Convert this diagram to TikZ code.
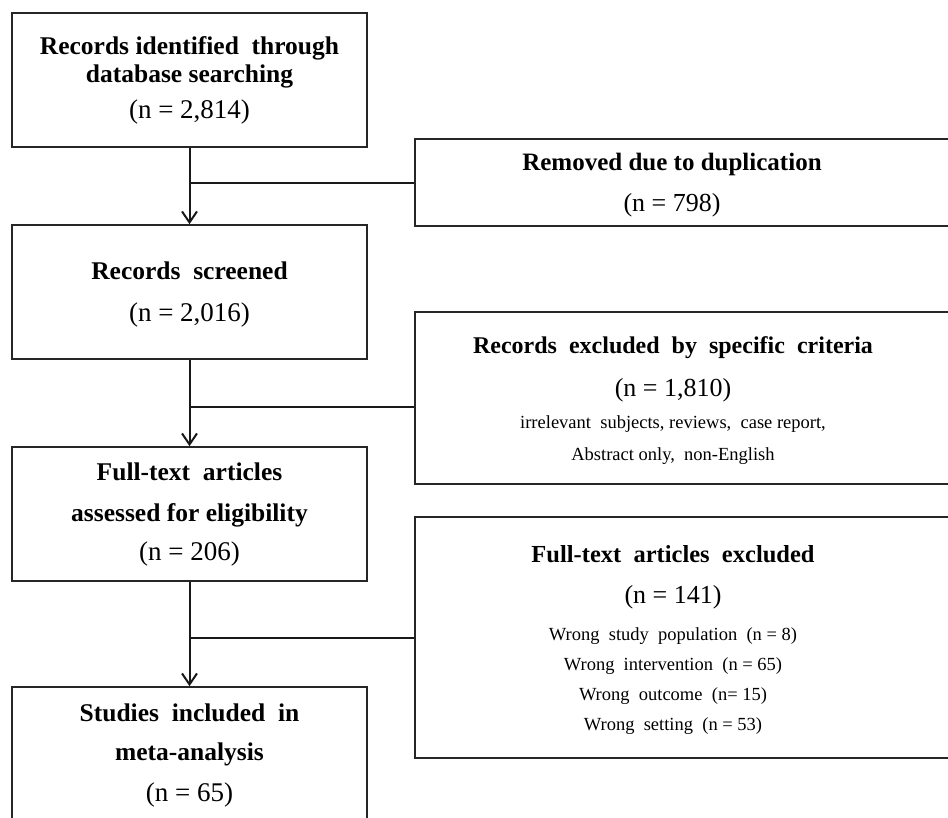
\documentclass[tikz,border=0pt]{standalone}
\usepackage{fontspec}
\setmainfont{Liberation Serif}
\usetikzlibrary{arrows.meta}
\begin{document}
\begin{tikzpicture}[x=1pt,y=-1pt,
  box/.style={draw=black!85, line width=1.6pt, rectangle, inner sep=0pt},
  head/.style={anchor=base, font=\fontsize{25.5}{28}\selectfont\bfseries, inner sep=0pt},
  rhead/.style={anchor=base, font=\fontsize{25}{28}\selectfont\bfseries, inner sep=0pt},
  num/.style={anchor=base, font=\fontsize{27}{30}\selectfont, inner sep=0pt},
  rnum/.style={anchor=base, font=\fontsize{26}{30}\selectfont, inner sep=0pt},
  small/.style={anchor=base, font=\fontsize{18.5}{22}\selectfont, inner sep=0pt},
  link/.style={draw=black!90, line width=2pt},
  arr/.style={link, -{Straight Barb[length=11pt,width=15pt]}}]
\useasboundingbox (0,0) rectangle (948,817);
\clip (0,0) rectangle (948,817);
% main column boxes
\node[box, minimum width=355pt, minimum height=134pt] (b1) at (189.5,80) {};
\node[box, minimum width=355pt, minimum height=134pt] (b2) at (189.5,292) {};
\node[box, minimum width=355pt, minimum height=134pt] (b3) at (189.5,514) {};
\node[box, minimum width=355pt, minimum height=135pt] (b4) at (189.5,754.5) {};
% right boxes
\node[box, minimum width=550pt, minimum height=87pt] (r1) at (690,182.5) {};
\node[box, minimum width=550pt, minimum height=172pt] (r2) at (690,398) {};
\node[box, minimum width=550pt, minimum height=241pt] (r3) at (690,637.5) {};
% texts, main column
\node[head] (t1a) at (189.5,54) {Records identified\ \ through};
\node[head] (t1b) at (189.5,82) {database searching};
\node[num]  (t1c) at (189.5,118) {(n = 2,814)};
\node[head] (t2a) at (189.5,279) {Records\ \ screened};
\node[num]  (t2b) at (189.5,321) {(n = 2,016)};
\node[head] (t3a) at (189.5,480) {Full-text\ \ articles};
\node[head] (t3b) at (189.5,521) {assessed for eligibility};
\node[num]  (t3c) at (189.5,560) {(n = 206)};
\node[head] (t4a) at (189.5,721) {Studies\ \ included\ \ in};
\node[head] (t4b) at (189.5,760) {meta-analysis};
\node[num]  (t4c) at (189.5,801) {(n = 65)};
% texts, right boxes
\node[rhead] (u1a) at (672,170) {Removed due to duplication};
\node[rnum]  (u1b) at (672,211) {(n = 798)};
\node[rhead, font=\fontsize{24}{28}\selectfont\bfseries] (u2a) at (673,353) {Records\ \ excluded\ \ by\ \ specific\ \ criteria};
\node[rnum]  (u2b) at (673,396) {(n = 1,810)};
\node[small] (u2c) at (673,428) {irrelevant\ \ subjects, reviews,\ \ case report,};
\node[small] (u2d) at (673,460) {Abstract only,\ \ non-English};
\node[rhead, font=\fontsize{24.5}{28}\selectfont\bfseries] (u3a) at (673,562) {Full-text\ \ articles\ \ excluded};
\node[rnum]  (u3b) at (673,603) {(n = 141)};
\node[small] (u3c) at (673,640) {Wrong\ \ study\ \ population\ \ (n = 8)};
\node[small] (u3d) at (673,670) {Wrong\ \ intervention\ \ (n = 65)};
\node[small] (u3e) at (673,700) {Wrong\ \ outcome\ \ (n= 15)};
\node[small] (u3f) at (673,730) {Wrong\ \ setting\ \ (n = 53)};
% connectors
\coordinate (j1) at (b1.south |- r1.west);
\coordinate (j2) at (189.5,407);
\coordinate (j3) at (b3.south |- r3.west);
\draw[arr] (b1.south) -- (b2.north);
\draw[arr] (b2.south) -- (b3.north);
\draw[arr] (b3.south) -- (b4.north);
\draw[link] (j1) -- (r1.west);
\draw[link] (j2) -- (j2 -| r2.west);
\draw[link] (j3) -- (r3.west);
\end{tikzpicture}
\end{document}
